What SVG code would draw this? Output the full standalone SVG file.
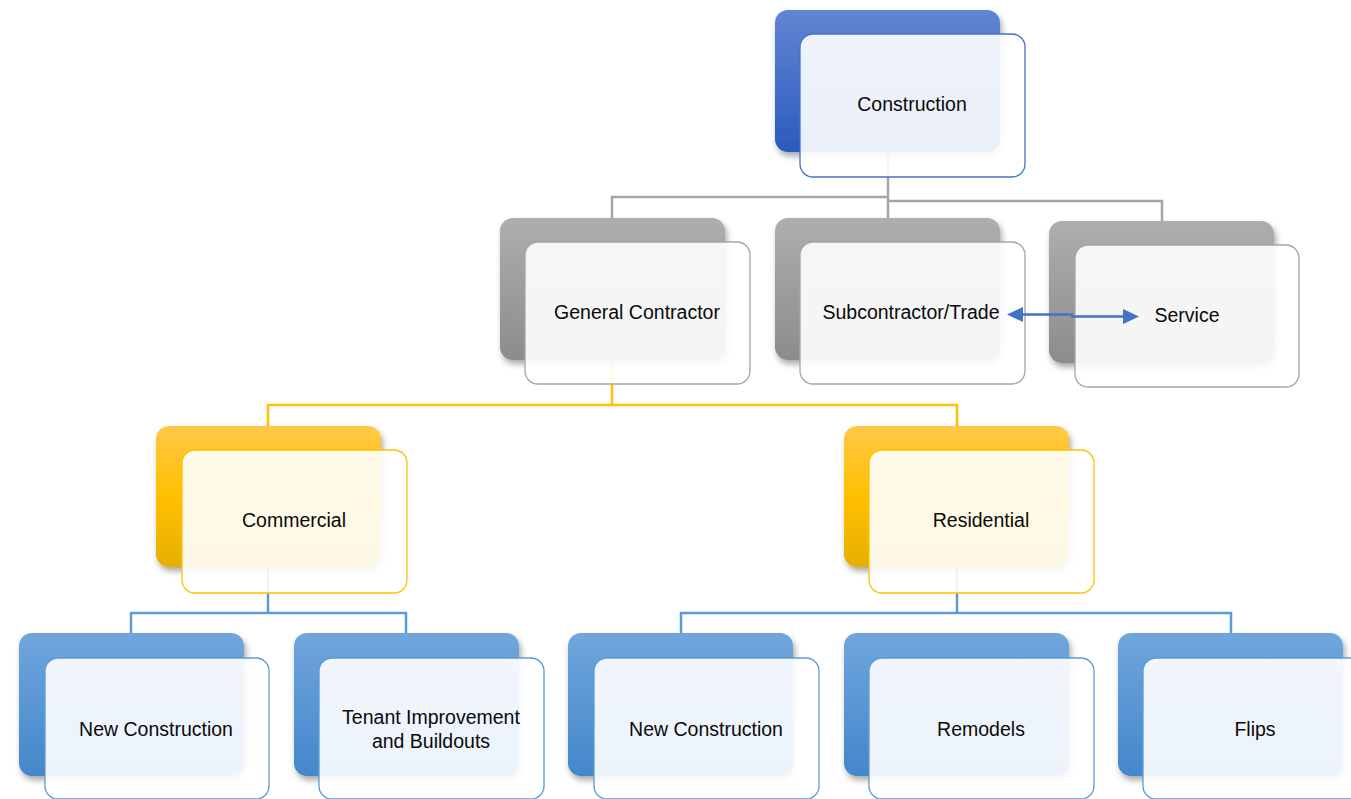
<svg xmlns="http://www.w3.org/2000/svg" width="1351" height="799" viewBox="0 0 1351 799">
<defs>
<linearGradient id="gBlue" x1="0" y1="0" x2="0" y2="1"><stop offset="0" stop-color="#6285D1"/><stop offset="1" stop-color="#2B5BBE"/></linearGradient>
<linearGradient id="gGray" x1="0" y1="0" x2="0" y2="1"><stop offset="0" stop-color="#AEAEAE"/><stop offset="1" stop-color="#8C8C8C"/></linearGradient>
<linearGradient id="gYel" x1="0" y1="0" x2="0" y2="1"><stop offset="0" stop-color="#FFC947"/><stop offset="0.5" stop-color="#FFC000"/><stop offset="1" stop-color="#E6AF00"/></linearGradient>
<linearGradient id="gLb" x1="0" y1="0" x2="0" y2="1"><stop offset="0" stop-color="#70A6DC"/><stop offset="1" stop-color="#4387CB"/></linearGradient>
<filter id="sh" x="-10%" y="-10%" width="125%" height="130%"><feDropShadow dx="2" dy="4" stdDeviation="3" flood-color="#000" flood-opacity="0.35"/></filter>
</defs>
<style>
.back{filter:url(#sh)}
.front{fill:#fff;fill-opacity:0.9;stroke-width:1.3}
.lbl{font-family:"Liberation Sans",Arial,sans-serif;font-size:19.5px;fill:#0a0a0a;text-anchor:middle}
.cg{fill:none;stroke:#A5A5A5;stroke-width:2.5}
.cy{fill:none;stroke:#FFC000;stroke-width:2.5}
.cb{fill:none;stroke:#5B9BD5;stroke-width:2.5}
</style>
<rect width="1351" height="799" fill="#fff"/>
<g id="connectors">
<path class="cg" d="M888,152 V218 M888,197 H612 V218 M888,201 H1162 V221"/>
<path class="cy" d="M612,360 V405 M268,426 V405 H957 V426"/>
<path class="cb" d="M268,567 V613 M131,633 V613 H406 V633"/>
<path class="cb" d="M957,567 V613 M681,633 V613 H1231 V633"/>
</g>
<g id="construction">
<rect class="back" x="775" y="10" width="225" height="142" rx="13" fill="url(#gBlue)"/>
<rect class="front" x="800" y="34" width="225" height="143" rx="13" stroke="#4472C4"/>
<text class="lbl" x="912" y="111">Construction</text>
</g>
<g id="general">
<rect class="back" x="500" y="218" width="225" height="142" rx="13" fill="url(#gGray)"/>
<rect class="front" x="525" y="242" width="225" height="142" rx="13" stroke="#A5A5A5"/>
<text class="lbl" x="637" y="319">General Contractor</text>
</g>
<g id="subcontractor">
<rect class="back" x="775" y="218" width="225" height="142" rx="13" fill="url(#gGray)"/>
<rect class="front" x="800" y="242" width="225" height="142" rx="13" stroke="#A5A5A5"/>
<text class="lbl" x="911" y="319">Subcontractor/Trade</text>
</g>
<g id="service">
<rect class="back" x="1049" y="221" width="225" height="142" rx="13" fill="url(#gGray)"/>
<rect class="front" x="1075" y="245" width="224" height="142" rx="13" stroke="#A5A5A5"/>
<text class="lbl" x="1187" y="322">Service</text>
</g>
<g id="commercial">
<rect class="back" x="156" y="426" width="225" height="141" rx="13" fill="url(#gYel)"/>
<rect class="front" x="182" y="450" width="225" height="143" rx="13" stroke="#FFC000"/>
<text class="lbl" x="294" y="527">Commercial</text>
</g>
<g id="residential">
<rect class="back" x="844" y="426" width="225" height="141" rx="13" fill="url(#gYel)"/>
<rect class="front" x="869" y="450" width="225" height="143" rx="13" stroke="#FFC000"/>
<text class="lbl" x="981" y="527">Residential</text>
</g>
<g id="newconstruction1">
<rect class="back" x="19" y="633" width="225" height="143" rx="13" fill="url(#gLb)"/>
<rect class="front" x="45" y="658" width="224" height="141" rx="13" stroke="#5B9BD5"/>
<text class="lbl" x="156" y="736">New Construction</text>
</g>
<g id="tenant">
<rect class="back" x="294" y="633" width="225" height="143" rx="13" fill="url(#gLb)"/>
<rect class="front" x="319" y="658" width="225" height="141" rx="13" stroke="#5B9BD5"/>
<text class="lbl" x="431" y="724">Tenant Improvement</text>
<text class="lbl" x="431" y="748">and Buildouts</text>
</g>
<g id="newconstruction2">
<rect class="back" x="568" y="633" width="225" height="143" rx="13" fill="url(#gLb)"/>
<rect class="front" x="594" y="658" width="225" height="141" rx="13" stroke="#5B9BD5"/>
<text class="lbl" x="706" y="736">New Construction</text>
</g>
<g id="remodels">
<rect class="back" x="844" y="633" width="225" height="143" rx="13" fill="url(#gLb)"/>
<rect class="front" x="869" y="658" width="225" height="141" rx="13" stroke="#5B9BD5"/>
<text class="lbl" x="981" y="736">Remodels</text>
</g>
<g id="flips">
<rect class="back" x="1118" y="633" width="225" height="143" rx="13" fill="url(#gLb)"/>
<rect class="front" x="1143" y="658" width="225" height="141" rx="13" stroke="#5B9BD5"/>
<text class="lbl" x="1255" y="736">Flips</text>
</g>
<g id="arrow-connector">
<path d="M1019,314.5 H1072 V316.5 H1126" fill="none" stroke="#4472C4" stroke-width="2.5"/>
<polygon points="1007,314.5 1023,307 1023,322" fill="#4472C4"/>
<polygon points="1139,316.5 1123,309 1123,324" fill="#4472C4"/>
</g>
</svg>
